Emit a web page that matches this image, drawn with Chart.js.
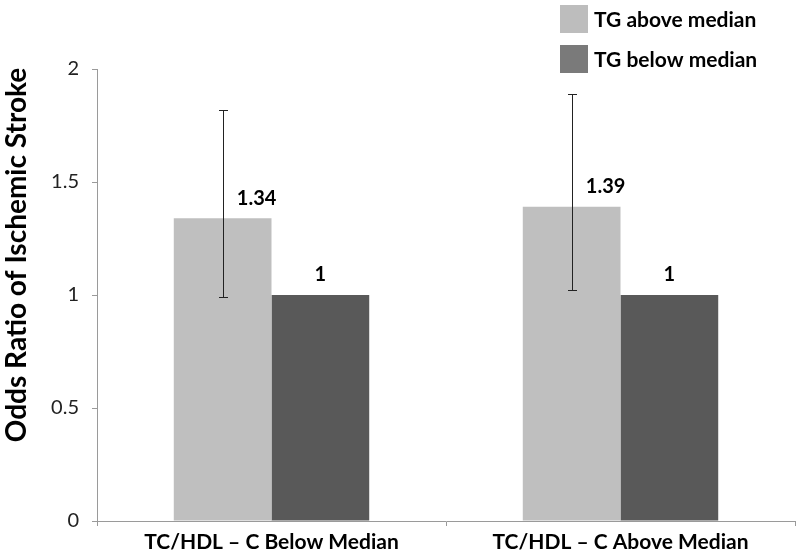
<!DOCTYPE html>
<html>
<head>
<meta charset="utf-8">
<script src="https://cdn.jsdelivr.net/npm/chart.js@4/dist/chart.umd.min.js"></script>
<style>
  html, body { margin: 0; padding: 0; background: #fff; }
  #wrap { width: 800px; height: 559px; position: relative; }
</style>
</head>
<body>
<div id="wrap"><canvas id="chart1"></canvas></div>
<script>
var categories = ["TC/HDL \u2013 C Below Median", "TC/HDL \u2013 C Above Median"];
var seriesNames = ["TG above median", "TG below median"];
var tgAbove = [1.34, 1.39];
var tgBelow = [1, 1];
var errLow = [0.99, 1.02];
var errHigh = [1.82, 1.89];
var yTicks = [0, 0.5, 1, 1.5, 2];

var FONT = "Lato, 'Open Sans', sans-serif";

var data = {
    labels: categories,
    datasets: [
        {
            label: seriesNames[0],
            data: tgAbove,
            backgroundColor: "#bfbfbf",
            legendColor: "#bdbdbd",
            errLow: errLow,
            errHigh: errHigh
        },
        {
            label: seriesNames[1],
            data: tgBelow,
            backgroundColor: "#595959",
            legendColor: "#7a7a7a"
        }
    ]
};

// error bars, value labels, legend and y title
var extras = {
    id: "extras",
    afterDatasetsDraw: function (chart) {
        var ctx = chart.ctx;
        var y = chart.scales.y;
        ctx.save();
        chart.data.datasets.forEach(function (ds, i) {
            var meta = chart.getDatasetMeta(i);
            meta.data.forEach(function (bar, j) {
                if (ds.errLow) {
                    var top = Math.round(y.getPixelForValue(ds.errHigh[j]));
                    var bot = Math.round(y.getPixelForValue(ds.errLow[j]));
                    var cx = Math.round(bar.x);
                    ctx.strokeStyle = "#222";
                    ctx.lineWidth = 1;
                    ctx.beginPath();
                    ctx.moveTo(cx + 0.5, top);
                    ctx.lineTo(cx + 0.5, bot);
                    ctx.moveTo(cx - 4, top + 0.5);
                    ctx.lineTo(cx + 5, top + 0.5);
                    ctx.moveTo(cx - 4, bot + 0.5);
                    ctx.lineTo(cx + 5, bot + 0.5);
                    ctx.stroke();
                }
                ctx.fillStyle = "#000";
                ctx.font = "bold 20px " + FONT;
                ctx.textAlign = "center";
                ctx.textBaseline = "middle";
                var dx = ds.errLow ? 34 : 0;
                ctx.fillText(String(ds.data[j]), bar.x + dx, bar.y - 20);
            });
        });

        // legend
        ctx.textAlign = "left";
        ctx.textBaseline = "middle";
        ctx.font = "bold 21px " + FONT;
        chart.data.datasets.forEach(function (ds, i) {
            var by = 5 + i * 40;
            ctx.fillStyle = ds.legendColor;
            ctx.fillRect(560, by, 28, 28);
            ctx.fillStyle = "#000";
            ctx.fillText(ds.label, 594, by + 15);
        });

        // y axis title
        ctx.translate(26, 255);
        ctx.rotate(-Math.PI / 2);
        ctx.textAlign = "center";
        ctx.textBaseline = "alphabetic";
        ctx.font = "bold 28px " + FONT;
        ctx.fillText("Odds Ratio of Ischemic Stroke", 0, 0);
        ctx.restore();
    }
};

var myBarChart = new Chart(document.getElementById("chart1"), {
    type: "bar",
    data: data,
    plugins: [extras],
    options: {
        responsive: true,
        maintainAspectRatio: false,
        animation: false,
        categoryPercentage: 0.56,
        barPercentage: 1,
        layout: { padding: { top: 69, right: 5, bottom: 0, left: 0 } },
        plugins: {
            legend: { display: false },
            tooltip: { enabled: false }
        },
        scales: {
            x: {
                grid: { drawOnChartArea: false, tickLength: 5, color: "#9a9a9a", offset: true },
                border: { color: "#9a9a9a" },
                ticks: { color: "#000", font: { family: FONT, size: 21, weight: "bold" }, padding: 4 },
                afterFit: function (s) { s.height = 38; }
            },
            y: {
                min: 0,
                max: 2,
                grid: { drawOnChartArea: false, tickLength: 5, color: "#9a9a9a" },
                border: { color: "#9a9a9a" },
                afterBuildTicks: function (s) {
                    s.ticks = yTicks.map(function (v) { return { value: v }; });
                },
                ticks: {
                    color: "#222",
                    font: { family: FONT, size: 20 },
                    padding: 13,
                    callback: function (v) { return String(v); }
                },
                afterFit: function (s) { s.width = 97; }
            }
        }
    }
});
</script>
</body>
</html>
